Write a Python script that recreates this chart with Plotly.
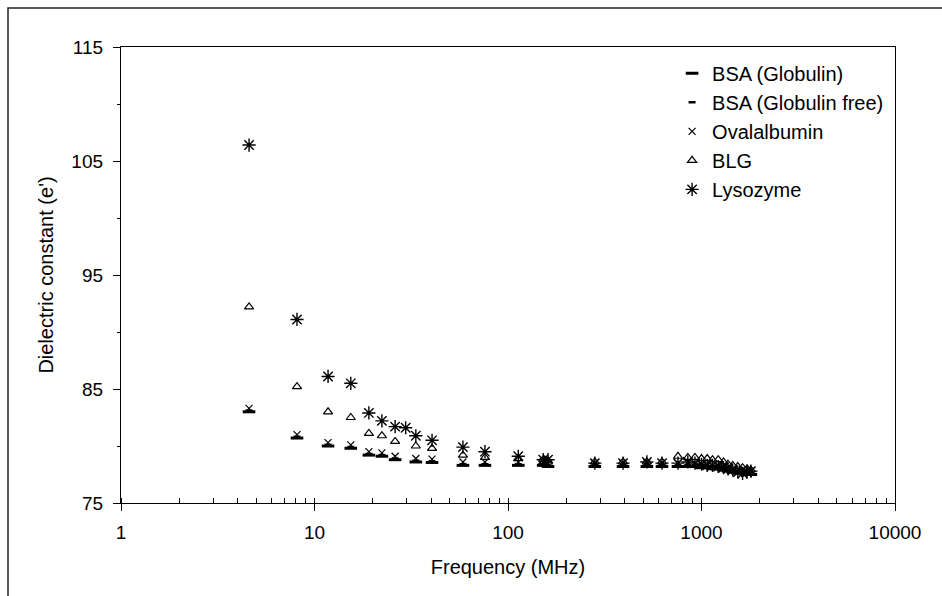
import plotly.graph_objects as go

# ---- data ----
freq_low = [4.59, 8.12, 11.75, 15.4, 19.1, 22.3, 26.1, 33.4, 40.5]
freq_lyso_low = [4.59, 8.12, 11.75, 15.4, 19.1, 22.3, 26.1, 29.6, 33.4, 40.5]
freq_high = [58.5, 76, 113, 152, 161, 281, 393, 522, 625, 756, 850, 925, 1000,
             1070, 1140, 1220, 1300, 1370, 1450, 1540, 1630, 1720, 1800]

bsa_glob_low = [83.0, 80.7, 80.0, 79.8, 79.2, 79.1, 78.8, 78.6, 78.55]
bsa_glob_high = [78.3, 78.3, 78.3, 78.3, 78.2, 78.2, 78.2, 78.2, 78.2, 78.2, 78.2, 78.2,
                 78.1, 78.1, 78.0, 78.0, 77.9, 77.8, 77.7, 77.6, 77.6, 77.5, 77.5]

bsa_free_low = [83.1, 80.8, 80.1, 79.9, 79.3, 79.2, 78.9, 78.7, 78.65]
bsa_free_high = [78.4, 78.4, 78.4, 78.4, 78.3, 78.3, 78.3, 78.3, 78.3, 78.3, 78.3, 78.3,
                 78.2, 78.2, 78.1, 78.1, 78.0, 77.9, 77.8, 77.7, 77.7, 77.6, 77.6]

oval_low = [83.3, 81.0, 80.3, 80.1, 79.5, 79.4, 79.1, 78.9, 78.85]
oval_high = [78.6, 78.6, 78.6, 78.6, 78.5, 78.5, 78.5, 78.5, 78.5, 78.5, 78.5, 78.5,
             78.4, 78.4, 78.3, 78.3, 78.2, 78.1, 78.0, 77.9, 77.9, 77.8, 77.8]

blg_low = [92.2, 85.2, 83.0, 82.5, 81.1, 80.9, 80.4, 80.0, 79.8]
blg_high = [79.2, 79.0, 78.9, 78.8, 78.7, 78.6, 78.6, 78.6, 78.6, 79.1, 79.0, 79.0,
            78.9, 78.9, 78.8, 78.8, 78.6, 78.4, 78.3, 78.2, 78.1, 78.0, 77.9]

lyso_low = [106.4, 91.1, 86.1, 85.5, 82.9, 82.2, 81.7, 81.6, 80.9, 80.5]
lyso_high = [79.9, 79.5, 79.1, 78.8, 78.8, 78.5, 78.5, 78.6, 78.5, 78.5, 78.6, 78.5,
             78.4, 78.3, 78.3, 78.2, 78.1, 78.0, 77.9, 77.7, 77.6, 77.7, 77.8]

names = ["BSA (Globulin)", "BSA (Globulin free)", "Ovalalbumin", "BLG", "Lysozyme"]
x_ticks = [1, 10, 100, 1000, 10000]
x_tick_text = ["1", "10", "100", "1000", "10000"]
y_ticks = [75, 85, 95, 105, 115]

FONT = "Liberation Sans, Arial, sans-serif"

fig = go.Figure()
series = [
    (names[0], freq_low + freq_high, bsa_glob_low + bsa_glob_high,
     dict(symbol="line-ew-open", size=9, line=dict(width=3, color="black"))),
    (names[1], freq_low + freq_high, bsa_free_low + bsa_free_high,
     dict(symbol="line-ew-open", size=5, line=dict(width=2.5, color="black"))),
    (names[2], freq_low + freq_high, oval_low + oval_high,
     dict(symbol="x-thin-open", size=7, line=dict(width=1.2, color="black"))),
    (names[3], freq_low + freq_high, blg_low + blg_high,
     dict(symbol="triangle-up-open", size=8, line=dict(width=1.2, color="black"))),
    (names[4], freq_lyso_low + freq_high, lyso_low + lyso_high,
     dict(symbol="asterisk-open", size=11, line=dict(width=1.4, color="black"))),
]
for name, xs, ys, mk in series:
    fig.add_trace(go.Scatter(x=xs, y=ys, mode="markers", name=name,
                             marker=dict(color="black", **mk)))

fig.update_layout(
    width=942, height=596,
    margin=dict(l=121, r=47, t=47, b=93),
    paper_bgcolor="white", plot_bgcolor="white",
    font=dict(family=FONT, size=19, color="black"),
    showlegend=True,
    legend=dict(x=0.712, y=0.985, xanchor="left", yanchor="top",
                bgcolor="rgba(0,0,0,0)", borderwidth=0,
                font=dict(family=FONT, size=20, color="black"),
                tracegroupgap=0, itemsizing="trace"),
    xaxis=dict(type="log", range=[0, 4], tickvals=x_ticks, ticktext=x_tick_text,
               ticks="outside", ticklen=7, tickcolor="black", tickwidth=1,
               ticklabelstandoff=5,
               showline=True, linecolor="black", linewidth=1.3, mirror=True,
               showgrid=False, zeroline=False,
               minor=dict(ticks="inside", ticklen=5, tickcolor="black", dtick="D1",
                          showgrid=False),
               title=dict(text="Frequency (MHz)", standoff=18,
                          font=dict(family=FONT, size=20)),
               tickfont=dict(family=FONT, size=19)),
    yaxis=dict(range=[75, 115], tickvals=y_ticks,
               ticks="outside", ticklen=7, tickcolor="black", tickwidth=1,
               ticklabelstandoff=6,
               showline=True, linecolor="black", linewidth=1.3, mirror=True,
               showgrid=False, zeroline=False,
               minor=dict(ticks="outside", ticklen=3, tickcolor="black", dtick=5,
                          showgrid=False),
               title=dict(text="Dielectric constant (e')", standoff=12,
                          font=dict(family=FONT, size=20)),
               tickfont=dict(family=FONT, size=19)),
)

# outer chart border (left and top visible in the reference)
fig.add_shape(type="rect", xref="paper", yref="paper",
              x0=(8 - 121) / 774, x1=(950 - 121) / 774,
              y0=(503 - 605) / 456, y1=(503 - 8) / 456,
              line=dict(color="#222222", width=1.5), layer="below")

fig.write_html("out.html")
